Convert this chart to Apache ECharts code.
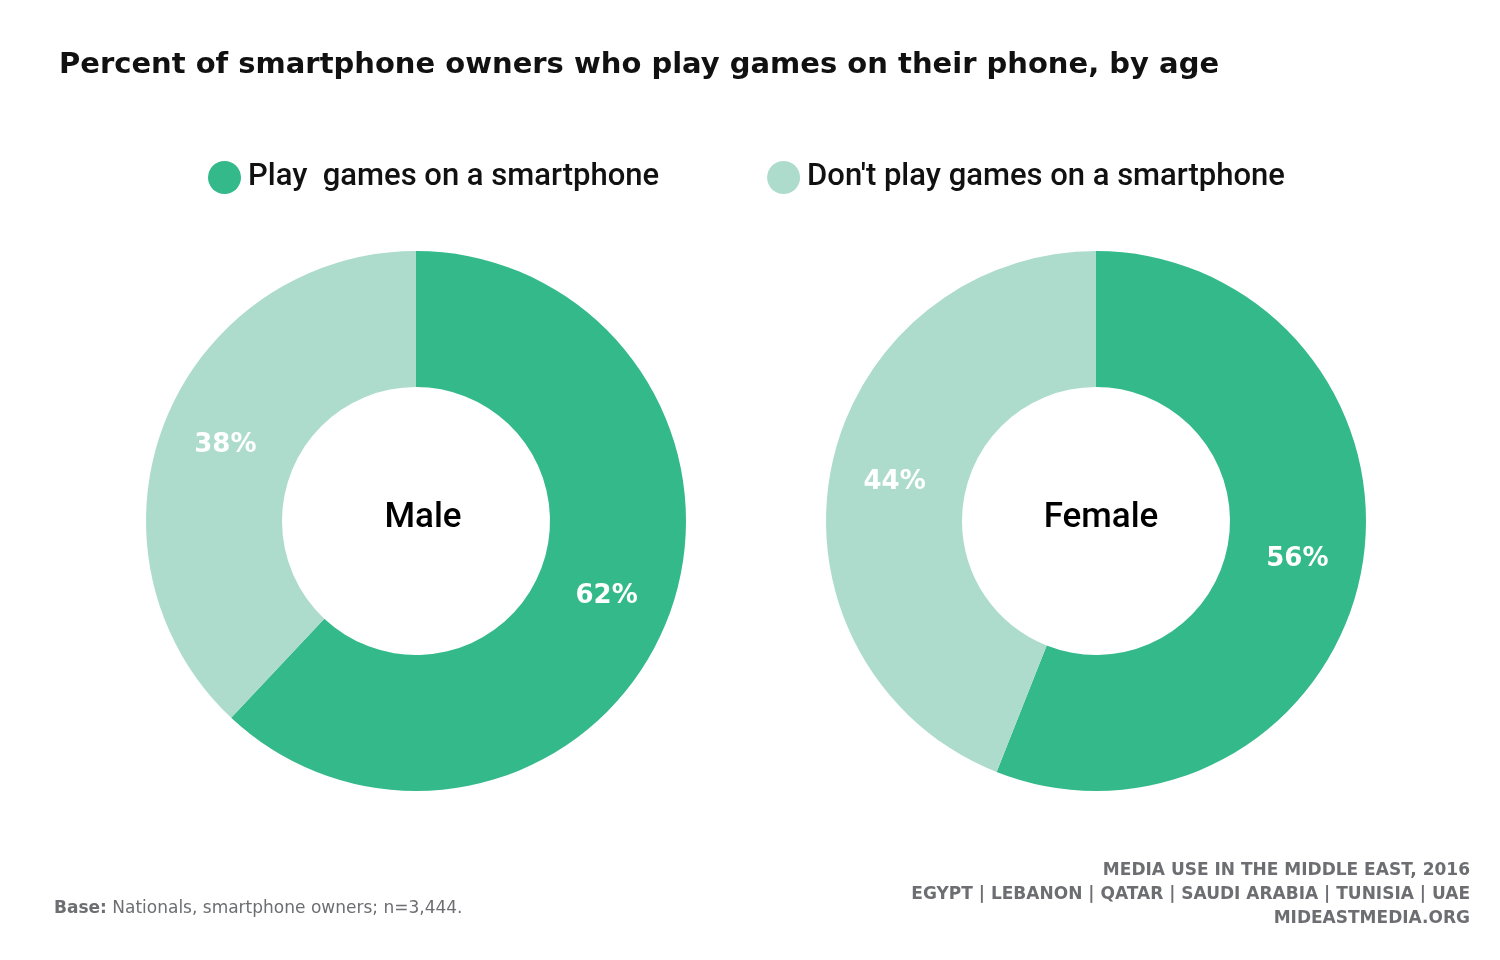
<!DOCTYPE html>
<html>
<head>
<meta charset="utf-8">
<script src="https://cdn.jsdelivr.net/npm/echarts@6/dist/echarts.min.js"></script>
<style>html,body{margin:0;padding:0;background:#fff}#chart{width:1500px;height:960px}</style>
</head>
<body>
<div id="chart"></div>
<script>
// data
const categories = ['Play  games on a smartphone', "Don't play games on a smartphone"];
const groups = ['Male', 'Female'];
const maleValues = [62, 38];
const femaleValues = [56, 44];
const colors = ['#34b98b', '#addccc'];
const footerLines = ['MEDIA USE IN THE MIDDLE EAST, 2016', 'EGYPT | LEBANON | QATAR | SAUDI ARABIA | TUNISIA | UAE', 'MIDEASTMEDIA.ORG'];

const chart = echarts.init(document.getElementById('chart'));

function donut(name, values, cx) {
  return {
    name: name,
    type: 'pie',
    center: [cx, 521],
    radius: [134, 270],
    startAngle: 90,
    silent: true,
    label: {
      show: true,
      position: 'inside',
      formatter: '{c}%',
      color: '#fff',
      fontSize: 26,
      fontWeight: 'bold',
      fontFamily: 'DejaVu Sans'
    },
    labelLine: { show: false },
    data: values.map((v, i) => ({ name: categories[i], value: v, itemStyle: { color: colors[i] } }))
  };
}

const footer = footerLines.map((t, i) => ({
  type: 'text', right: 30, top: 862 + i * 24,
  style: { text: t, fontSize: 17, fontWeight: 'bold', fill: '#6d6e71', fontFamily: 'DejaVu Sans' }
}));

const option = {
  animation: false,
  title: [
    { text: 'Percent of smartphone owners who play games on their phone, by age', left: 54, top: 46,
      textStyle: { fontSize: 29, fontWeight: 'bold', fontFamily: 'DejaVu Sans', color: '#111' } },
    { text: groups[0], left: 418, top: 496, textAlign: 'center',
      textStyle: { fontSize: 35, fontWeight: 500, fontFamily: 'Roboto', color: '#000' } },
    { text: groups[1], left: 1096, top: 496, textAlign: 'center',
      textStyle: { fontSize: 35, fontWeight: 500, fontFamily: 'Roboto', color: '#000' } }
  ],
  legend: {
    top: 156,
    left: 203,
    itemWidth: 33,
    itemHeight: 33,
    itemGap: 108,
    icon: 'circle',
    selectedMode: false,
    data: categories,
    textStyle: { fontSize: 31, fontWeight: 500, fontFamily: 'Roboto', color: '#111', padding: [0, 0, 0, 2] }
  },
  graphic: [
    { type: 'text', left: 54, top: 900,
      style: { text: '{b|Base:} Nationals, smartphone owners; n=3,444.',
        rich: { b: { fontWeight: 'bold', fontSize: 17, fill: '#6d6e71', fontFamily: 'DejaVu Sans' } },
        fontSize: 17, fill: '#6d6e71', fontFamily: 'DejaVu Sans' } }
  ].concat(footer),
  series: [donut(groups[0], maleValues, 416), donut(groups[1], femaleValues, 1096)]
};
chart.setOption(option);
</script>
</body>
</html>
